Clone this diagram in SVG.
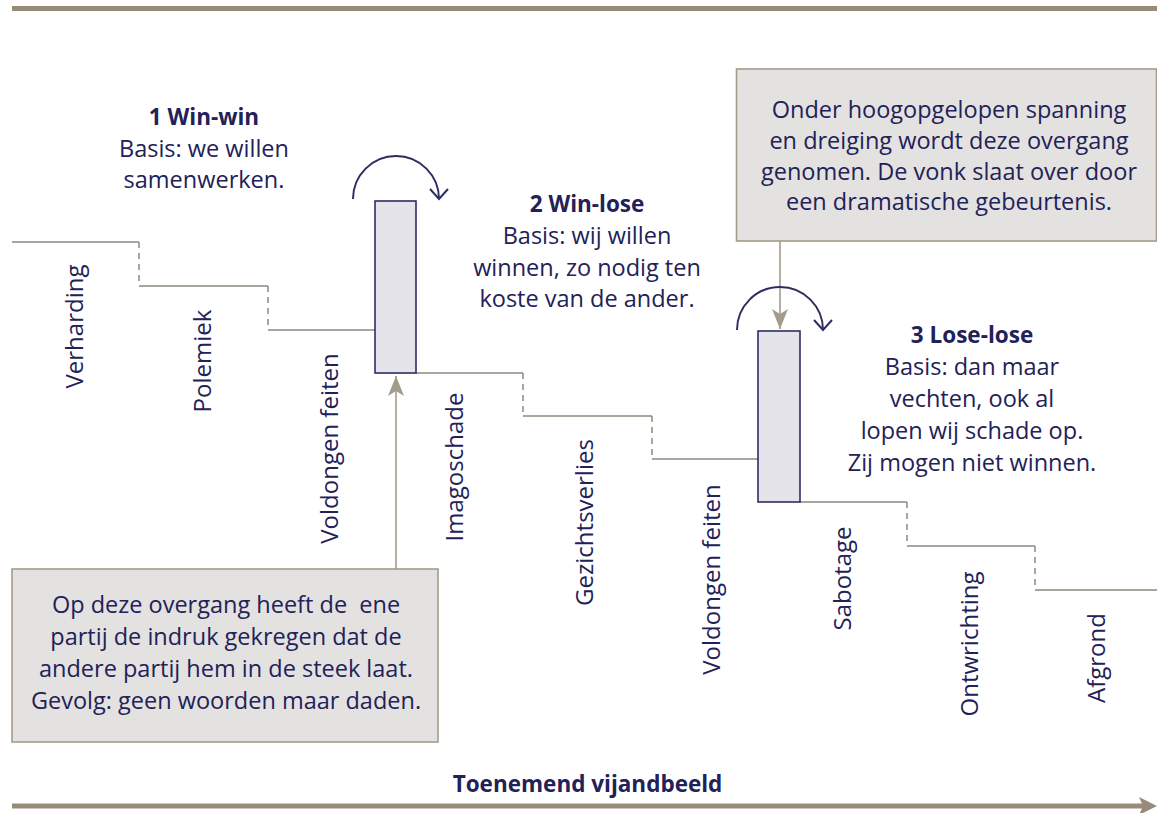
<svg xmlns="http://www.w3.org/2000/svg" width="1157" height="813" viewBox="0 0 1157 813">
<defs>
<style>
.t{font-family:"Open Sans","Noto Sans","Liberation Sans",sans-serif;font-size:23.5px;fill:#222158;text-anchor:middle}
.b{font-weight:bold;font-size:22.5px}
.lab{font-family:"Open Sans","Noto Sans","Liberation Sans",sans-serif;font-size:24px;fill:#222158;text-anchor:middle}
.step{fill:none;stroke:#8f897d;stroke-width:1.5}
.dash{fill:none;stroke:#8f897d;stroke-width:1.5;stroke-dasharray:6 5}
.bar{fill:#e4e4ea;stroke:#2e2d63;stroke-width:1.6}
.box{fill:#e3e2e0;stroke:#a39b8b;stroke-width:1.6}
.curve{fill:none;stroke:#2e2d63;stroke-width:2}
.conn{fill:none;stroke:#a39b8b;stroke-width:1.6}
.axis{fill:none;stroke:#978c79;stroke-width:5}
</style>
<marker id="tri" viewBox="0 0 20 16" refX="20" refY="8" markerWidth="20" markerHeight="16" markerUnits="userSpaceOnUse" orient="auto">
<path d="M0,0 L20,8 L0,16 L5,8 z" fill="#a39b8b"/>
</marker>
</defs>
<rect width="1157" height="813" fill="#ffffff"/>

<line class="axis" x1="12" y1="8.5" x2="1157" y2="8.5"/>

<g id="connectors">
<polyline class="step" points="12,242 139,242"/>
<line class="dash" x1="139" y1="242" x2="139" y2="286"/>
<polyline class="step" points="139,286 268,286"/>
<line class="dash" x1="268" y1="286" x2="268" y2="330"/>
<polyline class="step" points="268,330 375,330"/>
<polyline class="step" points="416,373 523,373"/>
<line class="dash" x1="523" y1="373" x2="523" y2="416"/>
<polyline class="step" points="523,416 652,416"/>
<line class="dash" x1="652" y1="416" x2="652" y2="459"/>
<polyline class="step" points="652,459 758,459"/>
<polyline class="step" points="800,502 907,502"/>
<line class="dash" x1="907" y1="502" x2="907" y2="546"/>
<polyline class="step" points="907,546 1035,546"/>
<line class="dash" x1="1035" y1="546" x2="1035" y2="590"/>
<polyline class="step" points="1035,590 1157,590"/>
<line class="conn" x1="396" y1="569" x2="396" y2="376" marker-end="url(#tri)"/>
<line class="conn" x1="780" y1="241" x2="780" y2="329" marker-end="url(#tri)"/>
<path class="curve" d="M353,199 A43,43 0 0 1 439,199"/>
<path class="curve" d="M430,189 L439,199 L448,189"/>
<path class="curve" d="M737,330 A43,43 0 0 1 823,330"/>
<path class="curve" d="M814,320 L823,330 L832,320"/>
</g>

<g id="bar1"><rect class="bar" x="375" y="201" width="41" height="172"/></g>
<g id="bar2"><rect class="bar" x="758" y="331" width="42" height="171"/></g>

<g id="phase1">
<text class="t b" x="204" y="125">1 Win-win</text>
<text class="t" x="204" y="157">Basis: we willen</text>
<text class="t" x="204" y="188">samenwerken.</text>
</g>
<g id="phase2">
<text class="t b" x="587" y="212">2 Win-lose</text>
<text class="t" x="587" y="244">Basis: wij willen</text>
<text class="t" x="587" y="276">winnen, zo nodig ten</text>
<text class="t" x="587" y="307">koste van de ander.</text>
</g>
<g id="phase3">
<text class="t b" x="972" y="343">3 Lose-lose</text>
<text class="t" x="972" y="375">Basis: dan maar</text>
<text class="t" x="972" y="407">vechten, ook al</text>
<text class="t" x="972" y="439">lopen wij schade op.</text>
<text class="t" x="972" y="471">Zij mogen niet winnen.</text>
</g>

<g id="note-top">
<rect class="box" x="736.5" y="69" width="420" height="172"/>
<text class="t" x="949" y="118">Onder hoogopgelopen spanning</text>
<text class="t" x="949" y="149">en dreiging wordt deze overgang</text>
<text class="t" x="949" y="180">genomen. De vonk slaat over door</text>
<text class="t" x="949" y="210">een dramatische gebeurtenis.</text>
</g>
<g id="note-bottom">
<rect class="box" x="12" y="569" width="426" height="173"/>
<text class="t" x="226" y="613" xml:space="preserve">Op deze overgang heeft de  ene</text>
<text class="t" x="226" y="645">partij de indruk gekregen dat de</text>
<text class="t" x="226" y="677">andere partij hem in de steek laat.</text>
<text class="t" x="226" y="709">Gevolg: geen woorden maar daden.</text>
</g>

<g id="labels">
<text class="lab" transform="translate(83,326.5) rotate(-90)">Verharding</text>
<text class="lab" transform="translate(211,361) rotate(-90)">Polemiek</text>
<text class="lab" transform="translate(338,448.5) rotate(-90)">Voldongen feiten</text>
<text class="lab" transform="translate(463,467) rotate(-90)">Imagoschade</text>
<text class="lab" transform="translate(593,522.5) rotate(-90)">Gezichtsverlies</text>
<text class="lab" transform="translate(720,579.5) rotate(-90)">Voldongen feiten</text>
<text class="lab" transform="translate(851,578.5) rotate(-90)">Sabotage</text>
<text class="lab" transform="translate(978,644) rotate(-90)">Ontwrichting</text>
<text class="lab" transform="translate(1105,658) rotate(-90)">Afgrond</text>
</g>

<g id="axis">
<line class="axis" x1="12" y1="806" x2="1146" y2="806"/>
<path d="M1139,797 L1157,806 L1139,815 L1143,806 z" fill="#978c79"/>
<text class="t b" x="587.5" y="792">Toenemend vijandbeeld</text>
</g>
</svg>
